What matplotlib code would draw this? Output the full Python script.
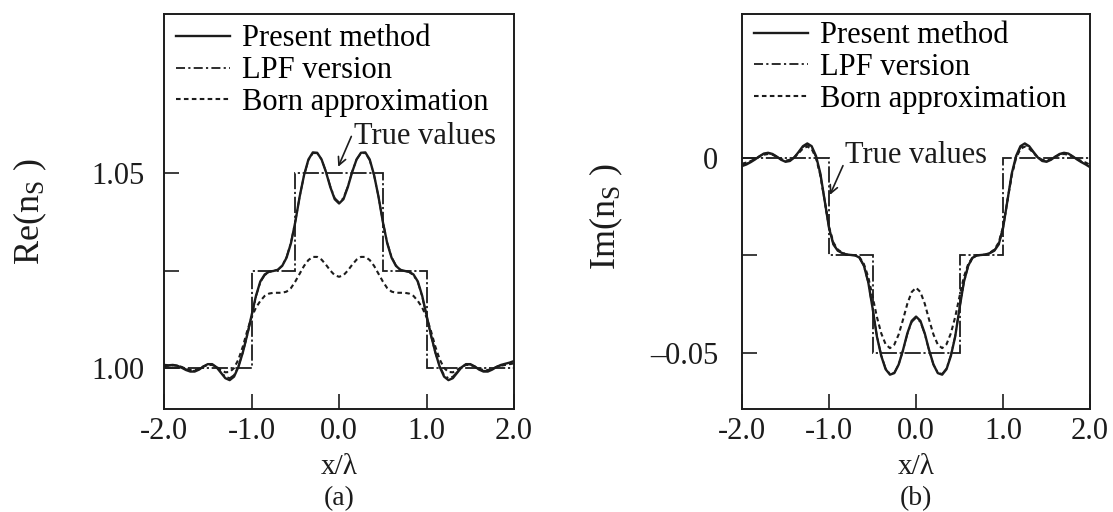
import numpy as np
import matplotlib
matplotlib.use('Agg')
import matplotlib.pyplot as plt

plt.rcParams['font.family'] = ['Liberation Serif', 'DejaVu Serif']
plt.rcParams['mathtext.fontset'] = 'custom'
plt.rcParams['mathtext.rm'] = 'Liberation Serif'
plt.rcParams['mathtext.it'] = 'Liberation Serif:italic'

# ---------------- data ----------------
x = np.linspace(-2.0, 2.0, 81)          # x / lambda sample positions (step 0.05)

step_edges = [-2.0, -1.0, -0.5, 0.5, 1.0, 2.0]
true_re = [1.000, 1.025, 1.050, 1.025, 1.000]
true_im = [0.000, -0.025, -0.050, -0.025, 0.000]

present_re = [
    1.0008, 1.0007, 1.0008, 1.0006, 1.0001, 0.9995, 0.9991, 0.9991, 0.9996, 1.0004,
    1.0010, 1.0010, 1.0002, 0.9988, 0.9974, 0.9969, 0.9978, 1.0003, 1.0040, 1.0085,
    1.0135, 1.0185, 1.0222, 1.0240, 1.0247, 1.0249, 1.0252, 1.0262, 1.0283, 1.0320,
    1.0375, 1.0440, 1.0495, 1.0535, 1.0553, 1.0552, 1.0535, 1.0503, 1.0464, 1.0433,
    1.0422,
    1.0433, 1.0464, 1.0503, 1.0535, 1.0552, 1.0553, 1.0535, 1.0495, 1.0440, 1.0375,
    1.0320, 1.0283, 1.0262, 1.0252, 1.0249, 1.0247, 1.0240, 1.0222, 1.0185, 1.0135,
    1.0085, 1.0040, 1.0003, 0.9978, 0.9969, 0.9974, 0.9988, 1.0002, 1.0010, 1.0010,
    1.0004, 0.9996, 0.9991, 0.9991, 0.9996, 1.0003, 1.0008, 1.0011, 1.0014, 1.0018]

lpf_re = [
    1.0006, 1.0006, 1.0007, 1.0006, 1.0002, 0.9997, 0.9993, 0.9993, 0.9997, 1.0004,
    1.0009, 1.0009, 1.0002, 0.9990, 0.9978, 0.9974, 0.9982, 1.0005, 1.0040, 1.0083,
    1.0133, 1.0183, 1.0220, 1.0238, 1.0246, 1.0249, 1.0252, 1.0263, 1.0285, 1.0322,
    1.0376, 1.0440, 1.0494, 1.0533, 1.0551, 1.0551, 1.0535, 1.0504, 1.0466, 1.0436,
    1.0425,
    1.0436, 1.0466, 1.0504, 1.0535, 1.0551, 1.0551, 1.0533, 1.0494, 1.0440, 1.0376,
    1.0322, 1.0285, 1.0263, 1.0252, 1.0249, 1.0246, 1.0238, 1.0220, 1.0183, 1.0133,
    1.0083, 1.0040, 1.0005, 0.9982, 0.9974, 0.9978, 0.9990, 1.0002, 1.0009, 1.0009,
    1.0004, 0.9997, 0.9993, 0.9993, 0.9997, 1.0003, 1.0007, 1.0009, 1.0011, 1.0014]

born_re = [
    1.0005, 1.0006, 1.0007, 1.0006, 1.0003, 0.9998, 0.9995, 0.9995, 0.9998, 1.0004,
    1.0008, 1.0008, 1.0003, 0.9995, 0.9989, 0.9990, 1.0000, 1.0022, 1.0055, 1.0095,
    1.0130, 1.0155, 1.0172, 1.0185, 1.0191, 1.0193, 1.0193, 1.0193, 1.0196, 1.0205,
    1.0222, 1.0242, 1.0262, 1.0277, 1.0285, 1.0285, 1.0278, 1.0265, 1.0250, 1.0238,
    1.0234,
    1.0238, 1.0250, 1.0265, 1.0278, 1.0285, 1.0285, 1.0277, 1.0262, 1.0242, 1.0222,
    1.0205, 1.0196, 1.0193, 1.0193, 1.0193, 1.0191, 1.0185, 1.0172, 1.0155, 1.0130,
    1.0095, 1.0055, 1.0022, 1.0000, 0.9990, 0.9989, 0.9995, 1.0003, 1.0008, 1.0008,
    1.0004, 0.9998, 0.9995, 0.9995, 0.9998, 1.0003, 1.0006, 1.0008, 1.0010, 1.0012]

present_im = [
    -0.0021, -0.0017, -0.0011, -0.0004, 0.0004, 0.0011, 0.0013, 0.0010, 0.0003, -0.0005,
    -0.0010, -0.0008, 0.0001, 0.0015, 0.0030, 0.0037, 0.0030, 0.0005, -0.0040, -0.0110,
    -0.0180, -0.0222, -0.0238, -0.0244, -0.0248, -0.0249, -0.0250, -0.0256, -0.0276, -0.0318,
    -0.0385, -0.0458, -0.0508, -0.0542, -0.0556, -0.0552, -0.0530, -0.0493, -0.0450, -0.0418,
    -0.0407,
    -0.0418, -0.0450, -0.0493, -0.0530, -0.0552, -0.0556, -0.0542, -0.0508, -0.0458, -0.0385,
    -0.0318, -0.0276, -0.0256, -0.0250, -0.0249, -0.0248, -0.0244, -0.0238, -0.0222, -0.0180,
    -0.0110, -0.0040, 0.0005, 0.0030, 0.0037, 0.0030, 0.0015, 0.0001, -0.0008, -0.0010,
    -0.0005, 0.0003, 0.0010, 0.0013, 0.0011, 0.0004, -0.0004, -0.0011, -0.0017, -0.0024]

lpf_im = [
    -0.0019, -0.0015, -0.0010, -0.0003, 0.0004, 0.0010, 0.0012, 0.0009, 0.0003, -0.0004,
    -0.0009, -0.0007, 0.0001, 0.0014, 0.0028, 0.0034, 0.0027, 0.0002, -0.0043, -0.0110,
    -0.0180, -0.0221, -0.0237, -0.0244, -0.0248, -0.0249, -0.0250, -0.0257, -0.0277, -0.0319,
    -0.0385, -0.0457, -0.0506, -0.0540, -0.0554, -0.0551, -0.0530, -0.0494, -0.0452, -0.0421,
    -0.0410,
    -0.0421, -0.0452, -0.0494, -0.0530, -0.0551, -0.0554, -0.0540, -0.0506, -0.0457, -0.0385,
    -0.0319, -0.0277, -0.0257, -0.0250, -0.0249, -0.0248, -0.0244, -0.0237, -0.0221, -0.0180,
    -0.0110, -0.0043, 0.0002, 0.0027, 0.0034, 0.0028, 0.0014, 0.0001, -0.0007, -0.0009,
    -0.0004, 0.0003, 0.0009, 0.0012, 0.0010, 0.0004, -0.0003, -0.0010, -0.0015, -0.0022]

born_im = [
    -0.0015, -0.0012, -0.0008, -0.0003, 0.0003, 0.0008, 0.0010, 0.0008, 0.0003, -0.0003,
    -0.0007, -0.0005, 0.0001, 0.0012, 0.0024, 0.0029, 0.0023, 0.0000, -0.0045, -0.0110,
    -0.0177, -0.0217, -0.0235, -0.0243, -0.0248, -0.0249, -0.0250, -0.0255, -0.0272, -0.0305,
    -0.0355, -0.0408, -0.0450, -0.0478, -0.0488, -0.0479, -0.0453, -0.0415, -0.0374, -0.0344,
    -0.0333,
    -0.0344, -0.0374, -0.0415, -0.0453, -0.0479, -0.0488, -0.0478, -0.0450, -0.0408, -0.0355,
    -0.0305, -0.0272, -0.0255, -0.0250, -0.0249, -0.0248, -0.0243, -0.0235, -0.0217, -0.0177,
    -0.0110, -0.0045, 0.0000, 0.0023, 0.0029, 0.0024, 0.0012, 0.0001, -0.0005, -0.0007,
    -0.0003, 0.0003, 0.0008, 0.0010, 0.0008, 0.0003, -0.0003, -0.0008, -0.0012, -0.0018]

series_labels = ['Present method', 'LPF version', 'Born approximation']
x_ticks = [-2.0, -1.0, 0.0, 1.0, 2.0]
x_tick_labels = ['-2.0', '-1.0', '0.0', '1.0', '2.0']
re_ticks = [1.00, 1.025, 1.05]
re_tick_labels = ['1.00', '', '1.05']
im_ticks = [0.0, -0.025, -0.05]
im_tick_labels = ['0', '', '\u20130.05']

# ---------------- drawing ----------------
INK = '#1c1c1c'
FS = 22

fig = plt.figure(figsize=(11.13, 5.12), dpi=100)
axA = fig.add_axes([0.1474, 0.2012, 0.3145, 0.7715])
axB = fig.add_axes([0.6667, 0.2012, 0.3127, 0.7715])


def draw(ax, present, lpf, born, true_vals, ylim, yticks, yticklabels,
         ylabel, ylab_pos, panel, arrow_head, arrow_tail, txt_pos,
         ypad, leg_anchor):
    ax.stairs(true_vals, step_edges, baseline=None, color=INK, lw=1.3,
              linestyle=(0, (9, 1.5, 1.2, 1.5)))
    lb, = ax.plot(x, born, color=INK, lw=1.5, linestyle=(0, (2.2, 1.6)))
    ll, = ax.plot(x, lpf, color=INK, lw=1.3, linestyle=(0, (5, 1.8, 1.2, 1.8)))
    lp, = ax.plot(x, present, color=INK, lw=1.7)

    ax.set_xlim(-2.0, 2.0)
    ax.set_ylim(*ylim)
    ax.set_xticks(x_ticks, x_tick_labels)
    ax.set_yticks(yticks, yticklabels)
    ax.tick_params(direction='in', length=11, width=1.2, colors=INK,
                   labelsize=FS)
    ax.tick_params(axis='x', pad=6)
    ax.tick_params(axis='y', pad=ypad)
    for s in ax.spines.values():
        s.set_linewidth(1.4)
        s.set_color(INK)

    ax.set_ylabel(ylabel, fontsize=26, color=INK)
    ax.yaxis.set_label_coords(*ylab_pos)
    ax.yaxis.label.set_va('center')
    ax.set_xlabel('x/\u03bb', fontsize=21, color=INK)
    ax.xaxis.set_label_coords(0.5, -0.148)
    ax.xaxis.label.set_va('center')
    ax.text(0.5, -0.226, panel, transform=ax.transAxes, ha='center',
            va='center', fontsize=20, color=INK)

    ax.legend([lp, ll, lb], series_labels, loc='upper left',
              bbox_to_anchor=leg_anchor, frameon=False, fontsize=FS,
              handlelength=1.75, handletextpad=0.4, labelspacing=0.09,
              borderaxespad=0.0, borderpad=0.15)

    ax.annotate('', xy=arrow_head, xytext=arrow_tail,
                arrowprops=dict(arrowstyle='->', lw=1.2, color=INK,
                                shrinkA=0, shrinkB=0,
                                mutation_scale=14))
    ax.text(txt_pos[0], txt_pos[1], 'True values', fontsize=FS, color=INK,
            ha='left', va='center')


draw(axA, present_re, lpf_re, born_re, true_re, (0.9895, 1.0908),
     re_ticks, re_tick_labels, 'Re(n$_{\\mathrm{S}}$ )', (-0.383, 0.50), '(a)',
     (-0.01, 1.0516), (0.14, 1.0594), (0.17, 1.0595), 14, (0.022, 0.985))
draw(axB, present_im, lpf_im, born_im, true_im, (-0.0644, 0.0369),
     im_ticks, im_tick_labels, 'Im(n$_{\\mathrm{S}}$ )', (-0.391, 0.486), '(b)',
     (-0.99, -0.0095), (-0.84, -0.0020), (-0.82, 0.0006), 17, (0.022, 0.993))

fig.savefig('out.png', dpi=100, facecolor='white')
